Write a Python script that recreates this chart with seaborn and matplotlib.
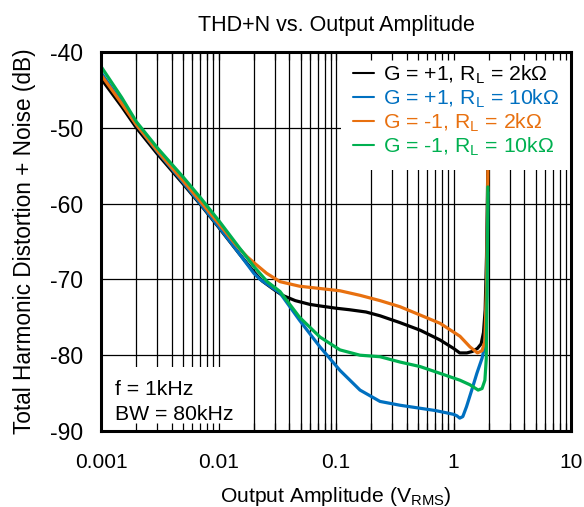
import numpy as np
import pandas as pd
import matplotlib
matplotlib.use("Agg")
import matplotlib.pyplot as plt
import seaborn as sns
from matplotlib.patches import Rectangle
from matplotlib.ticker import LogLocator, NullFormatter

sns.set_theme(style="white")
plt.rcParams['font.family'] = ['Liberation Sans', 'DejaVu Sans']
plt.rcParams['mathtext.default'] = 'regular'
plt.rcParams['axes.unicode_minus'] = False
plt.rcParams['text.color'] = 'black'
plt.rcParams['axes.labelcolor'] = 'black'
plt.rcParams['xtick.color'] = 'black'
plt.rcParams['ytick.color'] = 'black'

# ---------------- data ----------------
labels = ["G = +1, R$_{L}$ = 2kΩ", "G = +1, R$_{L}$ = 10kΩ",
          "G = -1, R$_{L}$ = 2kΩ", "G = -1, R$_{L}$ = 10kΩ"]
colors = ["#000000", "#0070C0", "#E8700F", "#00B050"]

black_x = [0.001, 0.0015, 0.002, 0.003, 0.005, 0.007, 0.01, 0.015, 0.02, 0.0235,
           0.03, 0.035, 0.045, 0.06, 0.073, 0.1, 0.13, 0.18, 0.237, 0.35, 0.52, 0.77, 1.0,
           1.13, 1.3, 1.45, 1.6, 1.72, 1.8, 1.86, 1.91, 1.94, 1.96]
black_y = [-43.5, -47.2, -50.0, -53.4, -57.4, -60.1, -63.1, -66.6, -69.0, -70.2,
           -71.4, -72.1, -72.8, -73.3, -73.5, -73.8, -74.0, -74.3, -74.8, -75.7, -76.7, -78.0, -79.1,
           -79.7, -79.7, -79.5, -79.1, -78.5, -77.0, -74.0, -67.0, -60.0, -54.8]

blue_x = [0.001, 0.0015, 0.002, 0.003, 0.005, 0.007, 0.01, 0.015, 0.02, 0.0226, 0.0334, 0.049,
          0.073, 0.108, 0.16, 0.237, 0.35, 0.52, 0.7, 0.87, 1.0, 1.07, 1.13, 1.2, 1.29, 1.43,
          1.58, 1.75, 1.85, 1.92, 1.96]
blue_y = [-42.7, -46.6, -49.6, -53.1, -57.2, -60.0, -63.0, -66.6, -69.2, -70.0, -71.8, -75.4,
          -78.9, -82.0, -84.6, -86.1, -86.6, -87.0, -87.3, -87.6, -87.8, -88.0, -88.3, -88.1, -86.8, -84.6,
          -82.4, -80.4, -78.7, -72.0, -58.5]

orange_x = [0.001, 0.0015, 0.002, 0.003, 0.005, 0.007, 0.01, 0.014, 0.0175, 0.0204, 0.0257, 0.0334,
            0.049, 0.073, 0.108, 0.16, 0.237, 0.35, 0.52, 0.77, 1.135, 1.38, 1.6, 1.75, 1.85,
            1.91, 1.94, 1.96]
orange_y = [-43.0, -46.8, -49.6, -53.0, -57.0, -59.7, -62.6, -65.4, -67.0, -67.9, -69.2, -70.3,
            -70.9, -71.2, -71.5, -72.1, -72.8, -73.6, -74.7, -75.8, -77.5, -78.9, -79.7, -79.4, -78.2,
            -71.0, -63.0, -55.6]

green_x = [0.001, 0.0015, 0.002, 0.003, 0.005, 0.007, 0.01, 0.015, 0.02, 0.026, 0.0334, 0.049,
           0.073, 0.108, 0.16, 0.237, 0.35, 0.52, 0.77, 1.135, 1.38, 1.62, 1.75, 1.85, 1.9,
           1.93, 1.95, 1.96]
green_y = [-41.9, -46.0, -49.2, -52.6, -56.5, -59.2, -62.2, -65.8, -68.3, -70.3, -71.6, -75.0,
           -77.6, -79.3, -80.0, -80.2, -80.9, -81.5, -82.4, -83.3, -83.9, -84.6, -84.4, -83.3, -80.5,
           -72.0, -64.0, -57.8]

xticks = [0.001, 0.01, 0.1, 1, 10]
xticklabels = ["0.001", "0.01", "0.1", "1", "10"]
yticks = [-90, -80, -70, -60, -50, -40]

frames = []
for lab, xs, ys in zip(labels, [black_x, blue_x, orange_x, green_x],
                       [black_y, blue_y, orange_y, green_y]):
    frames.append(pd.DataFrame({"x": xs, "y": ys, "series": lab}))
df = pd.concat(frames, ignore_index=True)

# ---------------- figure ----------------
fig = plt.figure(figsize=(5.84, 5.07), dpi=100)
ax = fig.add_axes([101/584, 1 - 431/507, 470/584, 379/507])
ax.set_xscale("log")
ax.set_xlim(0.001, 10)
ax.set_ylim(-90, -40)

sns.lineplot(data=df, x="x", y="y", hue="series", hue_order=labels,
             palette=dict(zip(labels, colors)), estimator=None, sort=False,
             linewidth=2.3, ax=ax, zorder=3)

ax.set_xticks(xticks)
ax.set_xticklabels(xticklabels)
ax.xaxis.set_minor_locator(LogLocator(base=10, subs=np.arange(2, 10)))
ax.xaxis.set_minor_formatter(NullFormatter())
ax.set_yticks(yticks)
ax.set_yticklabels([str(v) for v in yticks])
ax.tick_params(axis='x', labelsize=15, length=0, pad=16, labelcolor='black')
ax.tick_params(axis='y', labelsize=16.5, length=0, pad=13, labelcolor='black')
ax.tick_params(axis='x', which='minor', length=0)
ax.set_axisbelow(True)
ax.grid(True, which='major', axis='both', color='black', linewidth=0.9)
ax.grid(True, which='minor', axis='x', color='black', linewidth=0.9)
for s in ax.spines.values():
    s.set_color('black')
    s.set_linewidth(2.2)
    s.set_zorder(6)

ax.set_xlabel("Output Amplitude (V$_{RMS}$)", fontsize=15.2, labelpad=9, color='black')
ax.set_ylabel("Total Harmonic Distortion + Noise (dB)", fontsize=16.3, labelpad=10, color='black')
ax.set_title("THD+N vs. Output Amplitude", fontsize=15.5, pad=15, color='black')

leg = ax.legend(loc='upper right', fontsize=15.3, frameon=True, fancybox=False,
                framealpha=1, facecolor='white', edgecolor='none',
                handlelength=1.0, handletextpad=0.4, labelspacing=0.08,
                borderaxespad=0.0, borderpad=0.55, labelcolor='linecolor')
leg.set_zorder(4)
for h in leg.get_lines():
    h.set_linewidth(1.5)

# white box behind the condition text
ax.add_patch(Rectangle((0, 0), 0.296, 0.169, transform=ax.transAxes,
                       facecolor='white', edgecolor='none', zorder=2))
ax.text(0.030, 0.095, "f = 1kHz", transform=ax.transAxes, fontsize=15.3,
        va='baseline', ha='left', zorder=5, color='black')
ax.text(0.030, 0.029, "BW = 80kHz", transform=ax.transAxes, fontsize=15.3,
        va='baseline', ha='left', zorder=5, color='black')

# overlay axes carrying inward tick marks drawn on top of boxes
ax2 = fig.add_axes(ax.get_position(), sharex=ax, frameon=False)
ax2.set_ylim(-90, -40)
ax2.patch.set_visible(False)
ax2.set_zorder(ax.get_zorder() + 1)
ax2.tick_params(axis='x', which='both', direction='in', top=True, bottom=True,
                labelbottom=False, labeltop=False, color='black', width=0.9)
ax2.tick_params(axis='x', which='minor', length=5.5)
ax2.tick_params(axis='x', which='major', length=5.5)
ax2.tick_params(axis='y', left=False, right=False, labelleft=False)
ax2.grid(False)

fig.savefig("out.png", dpi=100)
